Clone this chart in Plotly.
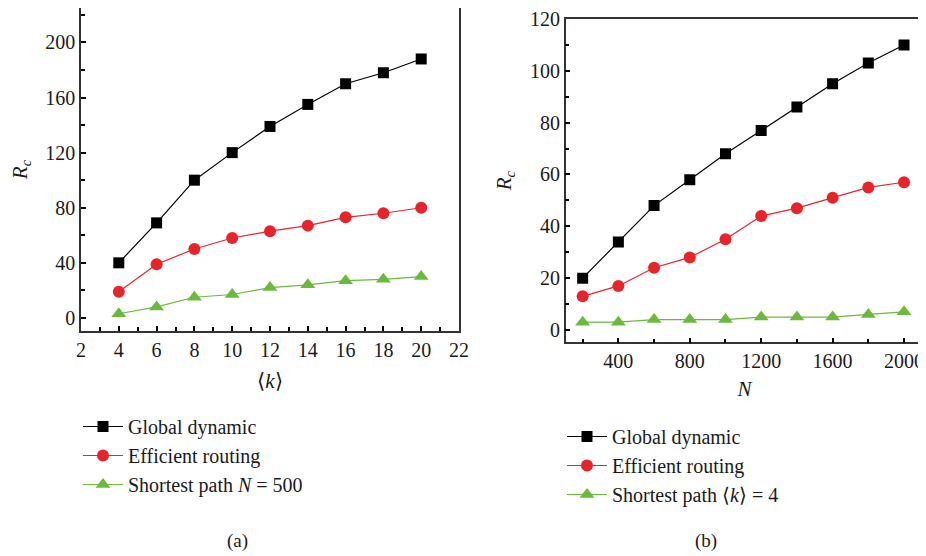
import plotly.graph_objects as go

# Panel (a)
k_vals = [4, 6, 8, 10, 12, 14, 16, 18, 20]
a_global = [40, 69, 100, 120, 139, 155, 170, 178, 188]
a_efficient = [19, 39, 50, 58, 63, 67, 73, 76, 80]
a_shortest = [3, 8, 15, 17, 22, 24, 27, 28, 30]

# Panel (b)
n_vals = [200, 400, 600, 800, 1000, 1200, 1400, 1600, 1800, 2000]
b_global = [20, 34, 48, 58, 68, 77, 86, 95, 103, 110]
b_efficient = [13, 17, 24, 28, 35, 44, 47, 51, 55, 57]
b_shortest = [3, 3, 4, 4, 4, 5, 5, 5, 6, 7]

names_a = ["Global dynamic", "Efficient routing", "Shortest path <i>N</i> = 500"]
names_b = ["Global dynamic", "Efficient routing", "Shortest path ⟨<i>k</i>⟩ = 4"]

BLACK = "#000000"
RED = "#e8232a"
GREEN = "#6aba3c"
styles = [
    (BLACK, "square", 11),
    (RED, "circle", 12),
    (GREEN, "triangle-up", 13),
]

FONT = "Liberation Serif"
TXT = "#1a1a1a"

# page body has an 8px margin; lay out in window pixels minus that offset
OFF = 8
W, H = 926 - OFF, 556 - OFF


def px(x):
    return (x - OFF) / W


def py(y):
    return min(1.0, 1 - (y - OFF) / H)


fig = go.Figure()
for i, ((col, sym, sz), name, ys) in enumerate(zip(styles, names_a, [a_global, a_efficient, a_shortest])):
    fig.add_trace(go.Scatter(
        x=k_vals, y=ys, name=name, mode="lines+markers",
        line=dict(color=col, width=1.2),
        marker=dict(color=col, symbol=sym, size=sz),
        xaxis="x", yaxis="y", legend="legend", legendgroup=f"a{i}",
    ))
for i, ((col, sym, sz), name, ys) in enumerate(zip(styles, names_b, [b_global, b_efficient, b_shortest])):
    fig.add_trace(go.Scatter(
        x=n_vals, y=ys, name=name, mode="lines+markers",
        line=dict(color=col, width=1.2),
        marker=dict(color=col, symbol=sym, size=sz),
        xaxis="x2", yaxis="y2", legend="legend2", legendgroup=f"b{i}",
    ))

axis_common = dict(
    showline=True, linecolor="#333333", linewidth=1.5, mirror=True,
    ticks="inside", ticklen=5, tickwidth=1.5, tickcolor="#000000",
    showgrid=False, zeroline=False, automargin=False,
    tickfont=dict(family=FONT, size=20, color=TXT),
)
minor_common = dict(ticks="inside", ticklen=4, tickwidth=1.5, tickcolor="#000000", showgrid=False)
title_font = dict(family=FONT, size=21, color=TXT)

fig.update_layout(
    width=W, height=H,
    margin=dict(l=0, r=0, t=0, b=0, autoexpand=False),
    paper_bgcolor="white", plot_bgcolor="white",
    font=dict(family=FONT, color=TXT),
    xaxis=dict(domain=[px(81), px(459)], range=[2, 22], tick0=2, dtick=2,
               minor=dict(dtick=1, **minor_common),
               title=dict(text="⟨<i>k</i>⟩", font=title_font, standoff=14),
               anchor="y", **axis_common),
    yaxis=dict(domain=[py(331), py(8)], range=[-9.5, 225], tick0=0, dtick=40,
               minor=dict(dtick=20, **minor_common),
               title=dict(text="<i>R</i><sub><i>c</i></sub>", font=title_font, standoff=19),
               anchor="x", **axis_common),
    xaxis2=dict(domain=[px(565.7), px(923.3)], range=[105, 2108], tick0=400, dtick=400,
                minor=dict(dtick=200, **minor_common),
                title=dict(text="<i>N</i>", font=title_font, standoff=10),
                anchor="y2", **axis_common),
    yaxis2=dict(domain=[py(342.3), py(19)], range=[-4.75, 120], tick0=0, dtick=20,
                minor=dict(dtick=10, **minor_common),
                title=dict(text="<i>R</i><sub><i>c</i></sub>", font=title_font, standoff=13),
                anchor="x2", **axis_common),
    legend=dict(x=px(78), y=py(407), xanchor="left", yanchor="top",
                font=dict(family=FONT, size=20, color=TXT),
                bgcolor="rgba(0,0,0,0)", itemwidth=40, tracegroupgap=0),
    legend2=dict(x=px(562), y=py(417), xanchor="left", yanchor="top",
                 font=dict(family=FONT, size=20, color=TXT),
                 bgcolor="rgba(0,0,0,0)", itemwidth=40, tracegroupgap=0),
    annotations=[
        dict(text="(a)", x=px(237), y=py(541), xref="paper", yref="paper",
             xanchor="center", yanchor="middle",
             showarrow=False, font=dict(family=FONT, size=19, color=TXT)),
        dict(text="(b)", x=px(706), y=py(541), xref="paper", yref="paper",
             xanchor="center", yanchor="middle",
             showarrow=False, font=dict(family=FONT, size=19, color=TXT)),
    ],
)

fig.write_html("out.html")
